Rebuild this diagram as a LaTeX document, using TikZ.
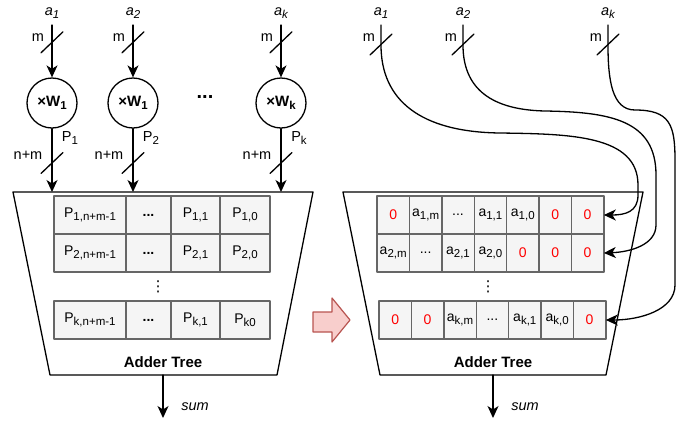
\documentclass[tikz,border=0pt]{standalone}
\usepackage{fontspec}
\setmainfont{Liberation Sans}
\newfontfamily\symfont{DejaVu Sans}
\usepackage{xcolor}
\usetikzlibrary{arrows.meta,positioning}

\definecolor{cellfill}{HTML}{F5F5F5}
\definecolor{celldraw}{HTML}{666666}
\definecolor{arrfill}{HTML}{F8CECC}
\definecolor{arrdraw}{HTML}{B85450}

\newcommand{\zr}{\textcolor{red}{0}}
\newcommand{\tdots}{...}
\newcommand{\lo}[1]{\raisebox{-0.35ex}{\fontsize{11.5}{12}\selectfont #1}}
\newcommand{\busmark}[1]{\draw[line width=1.3pt] (#1) ++(-11,10) -- ++(22,-21);}

\tikzset{
  every node/.style={font=\fontsize{14.5}{16}\selectfont},
  cellbox/.style={draw=celldraw, fill=cellfill, line width=1.4pt, minimum height=38pt, inner sep=0pt, outer sep=0pt, font=\fontsize{14}{16}\selectfont},
  mulnode/.style={draw, circle, line width=1.3pt, minimum size=50pt, inner sep=0pt, font=\fontsize{15}{16}\selectfont\bfseries},
  treelabel/.style={font=\fontsize{15}{16}\selectfont\bfseries},
  vdotlabel/.style={font=\fontsize{15}{16}\symfont}
}

\begin{document}
\begin{tikzpicture}[line cap=round,line join=round,>={Stealth[length=12pt,width=11pt,inset=3.5pt]},x=1pt,y=-1pt,line width=1.3pt]
\useasboundingbox (0,0) rectangle (694,424);
% left: multipliers
\foreach \x/\a/\w/\p [count=\i] in {52/1/1/1, 133/2/1/2, 281/k/k/k} {
  \node (a\i) at (\x,13) {\textit{a\lo{\a}}};
  \coordinate (in\i) at (\x,25);
  \node[mulnode] (m\i) at (\x,103) {×W\lo{\textbf{\w}}};
  \coordinate (t\i) at (\x,192);
  \draw[->] (in\i) -- node[pos=.34,coordinate] (s\i) {} (m\i);
  \draw[->] (m\i) -- node[pos=.55,coordinate] (q\i) {} (t\i);
  \busmark{s\i}
  \busmark{q\i}
  \node at ({\x-14},38) {m};
  \node at ({\x-24},155) {n+m};
  \node at ({\x+18},138) {P\lo{\p}};
}
\node[font=\fontsize{20}{20}\selectfont\bfseries] (dots) at (205,97) {\tdots};
% left adder tree
\draw (13,192) -- (313,192) -- (277,375) -- (50,375) -- cycle;
\node[cellbox, minimum width=72pt, anchor=north west] (p11) at (54,196) {P\lo{1,n+m-1}};
\node[cellbox, minimum width=45pt, right=0pt of p11] (p12) {\textbf{\tdots}};
\node[cellbox, minimum width=49pt, right=0pt of p12] (p13) {P\lo{1,1}};
\node[cellbox, minimum width=50pt, right=0pt of p13] (p14) {P\lo{1,0}};
\node[cellbox, minimum width=72pt, below=0pt of p11] (p21) {P\lo{2,n+m-1}};
\node[cellbox, minimum width=45pt, right=0pt of p21] (p22) {\textbf{\tdots}};
\node[cellbox, minimum width=49pt, right=0pt of p22] (p23) {P\lo{2,1}};
\node[cellbox, minimum width=50pt, right=0pt of p23] (p24) {P\lo{2,0}};
\node[cellbox, minimum width=72pt, anchor=north west] (p31) at (54,301) {P\lo{k,n+m-1}};
\node[cellbox, minimum width=45pt, right=0pt of p31] (p32) {\textbf{\tdots}};
\node[cellbox, minimum width=49pt, right=0pt of p32] (p33) {P\lo{k,1}};
\node[cellbox, minimum width=50pt, right=0pt of p33] (p34) {P\lo{k0}};
\node[vdotlabel] (vd1) at (158,287) {⋮};
\node[treelabel] (tree1) at (163,362) {Adder Tree};
\coordinate (o1) at (163,375);
\coordinate (e1) at (163,418);
\draw[->] (o1) -- (e1);
\node (sum1) at (195,407) {\textit{sum}};
% arrow between
\draw[draw=arrdraw, fill=arrfill, line width=1.2pt] (313,312) -- (332,312) -- (332,298) -- (350,320) -- (332,342) -- (332,332) -- (313,332) -- cycle;
% right inputs
\foreach \x/\a [count=\i] in {381/1, 463/2, 608/k} {
  \node (b\i) at (\x,13) {\textit{a\lo{\a}}};
  \coordinate (bin\i) at (\x,25);
  \coordinate (bs\i) at (\x,45);
  \node at ({\x-12},38) {m};
  \busmark{bs\i}
}
% right adder tree
\draw (343,192) -- (643,192) -- (606,375) -- (380,375) -- cycle;
\foreach \t [count=\i] in {\zr, {a\lo{1,m}}, \tdots, {a\lo{1,1}}, {a\lo{1,0}}, \zr, \zr}
  \node[cellbox, minimum width=32.4pt, anchor=north west] (ra\i) at ({377+32.4*(\i-1)},196) {\t};
\foreach \t [count=\i] in {{a\lo{2,m}}, \tdots, {a\lo{2,1}}, {a\lo{2,0}}, \zr, \zr, \zr}
  \node[cellbox, minimum width=32.4pt, anchor=north west] (rb\i) at ({377+32.4*(\i-1)},234) {\t};
\foreach \t [count=\i] in {\zr, \zr, {a\lo{k,m}}, \tdots, {a\lo{k,1}}, {a\lo{k,0}}, \zr}
  \node[cellbox, minimum width=32.4pt, anchor=north west] (rc\i) at ({379+32.4*(\i-1)},301) {\t};
\node[vdotlabel] (vd2) at (488,287) {⋮};
\node[treelabel] (tree2) at (493,362) {Adder Tree};
\coordinate (o2) at (493,375);
\coordinate (e2) at (493,418);
\draw[->] (o2) -- (e2);
\node (sum2) at (525,407) {\textit{sum}};
% wiring
\draw[->] (bin1) -- (bs1) .. controls (381,100) and (420,132) .. (500,133)
  .. controls (570,134) and (638,135) .. (638,185) -- (638,195)
  .. controls (638,212) and (625,215) .. (ra7.east);
\draw[->] (bin2) -- (bs2) .. controls (463,95) and (500,110) .. (545,111)
  .. controls (610,112) and (656,120) .. (656,175) -- (656,225)
  .. controls (656,245) and (630,252) .. (rb7.east);
\draw[->] (bin3) -- (bs3) .. controls (608,80) and (612,110) .. (635,110)
  .. controls (670,110) and (675,125) .. (675,160) -- (675,285)
  .. controls (675,310) and (640,320) .. (rc7.east);
\end{tikzpicture}
\end{document}
